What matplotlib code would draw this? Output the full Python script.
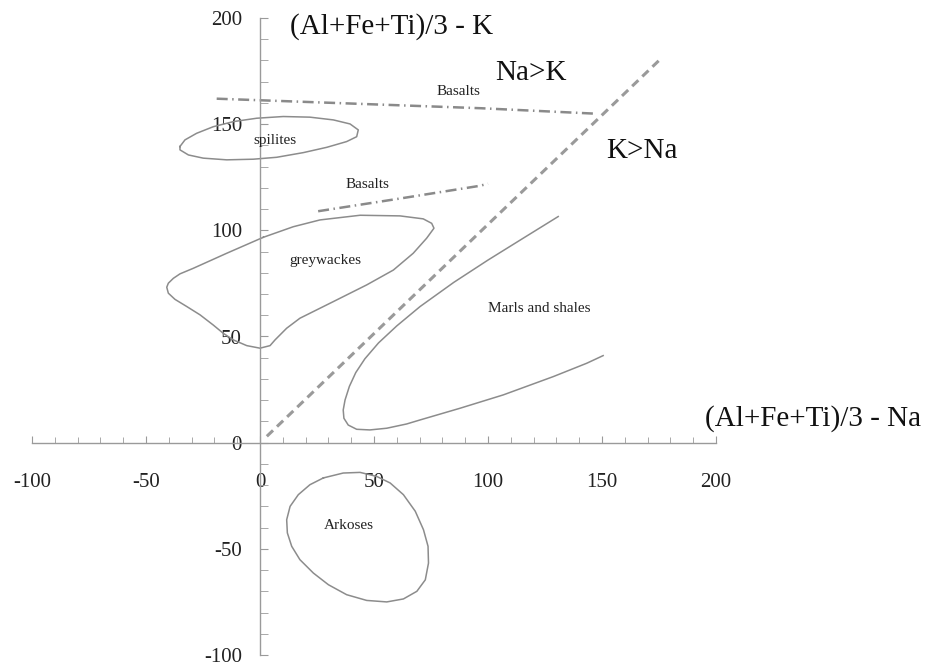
import matplotlib.pyplot as plt
from matplotlib.ticker import MultipleLocator

# field outlines
spilites_x = [-35.1, -32.9, -27.8, -20.5, -11.7, -1.4, 10.2, 21.9, 32.2, 39.5, 43.1, 42.4, 38.0, 29.3, 19.0,
              7.3, -2.9, -14.6, -24.9, -31.4, -35.1, -35.1]
spilites_y = [139.5, 142.6, 145.7, 148.8, 151.2, 152.8, 153.6, 153.3, 152.0, 150.1, 147.3, 144.1, 141.8, 139.1, 136.6,
              134.4, 133.5, 133.2, 134.0, 135.5, 137.9, 139.5]

greywackes_x = [1.4, 14.6, 26.3, 43.9, 61.4, 71.6, 75.3, 76.3, 73.1, 67.2, 58.5, 46.8, 32.1, 17.5, 11.7, 6.6,
                4.4, 0.0, -5.8, -11.7, -16.1, -20.5, -26.3, -32.1, -37.3, -40.2, -40.9, -40.2, -38.0, -35.1,
                -29.3, -14.6, 1.4]
greywackes_y = [96.7, 101.7, 104.9, 107.1, 106.8, 105.4, 103.3, 101.0, 96.3, 89.2, 81.3, 74.3, 66.4, 58.6, 53.9, 48.4,
                45.7, 44.5, 45.7, 48.4, 51.5, 55.4, 60.2, 64.1, 67.5, 70.4, 73.2, 75.1, 77.4, 79.5,
                82.1, 89.2, 96.7]

marls_x = [130.8, 115.0, 100.0, 85.0, 70.2, 60.0, 52.0, 46.0, 42.0, 39.2, 37.3, 36.5, 36.8, 38.7, 42.4,
           48.2, 55.6, 64.3, 70.2, 87.7, 106.7, 128.6, 143.3, 150.5]
marls_y = [106.5, 96.0, 86.0, 75.5, 64.1, 55.0, 47.0, 39.5, 33.0, 26.5, 20.1, 15.4, 11.5, 8.3, 6.3,
           6.0, 6.8, 8.8, 10.7, 16.2, 22.5, 31.1, 37.4, 41.0]

arkoses_x = [27.8, 21.9, 16.8, 13.2, 11.7, 12.0, 13.9, 17.5, 23.4, 30.0, 38.0, 46.8, 55.6, 62.9, 68.8, 72.5,
             73.9, 73.7, 71.7, 68.1, 62.9, 57.1, 51.2, 43.9, 36.5, 27.8]
arkoses_y = [-16.6, -19.8, -24.5, -30.0, -36.3, -42.5, -48.8, -55.1, -61.4, -66.9, -71.6, -74.3, -75.0, -73.6, -70.0, -64.6,
             -56.7, -48.8, -41.0, -32.3, -24.5, -19.0, -15.9, -14.0, -14.3, -16.6]

# Na = K divide and basalt limits
divide_x = [3, 175]
divide_y = [3, 180]
basalt_upper_x = [-19, 97, 146]
basalt_upper_y = [162, 157.5, 155]
basalt_lower_x = [25.5, 61.5, 96.6, 100]
basalt_lower_y = [109, 115, 121, 122]

field_labels = ['spilites', 'greywackes', 'Marls and shales', 'Arkoses', 'Basalts', 'Basalts']
field_label_x = [6.6, 28.5, 122.5, 39.1, 87, 47]
field_label_y = [142.3, 85.9, 63.4, -39, 165.3, 121.6]

plt.rcParams['font.family'] = ['Liberation Serif', 'DejaVu Serif']
plt.rcParams['axes.unicode_minus'] = False

fig = plt.figure(figsize=(9.49, 6.68), dpi=100)
ax = fig.add_axes([32 / 949, 1 - 655 / 668, (716 - 32) / 949, (655 - 18) / 668])
ax.set_xlim(-100, 200)
ax.set_ylim(-100, 200)

line_col = '#8c8c8c'
ax.plot(spilites_x, spilites_y, color=line_col, lw=1.1)
ax.plot(greywackes_x, greywackes_y, color=line_col, lw=1.1)
ax.plot(marls_x, marls_y, color=line_col, lw=1.1)
ax.plot(arkoses_x, arkoses_y, color=line_col, lw=1.1)
ax.plot(divide_x, divide_y, color='#9a9a9a', lw=2.2, dashes=(2.8, 1.8))
ax.plot(basalt_upper_x, basalt_upper_y, color='#8a8a8a', lw=1.8, dashes=(4.4, 1.8, 0.6, 1.8))
ax.plot(basalt_lower_x, basalt_lower_y, color='#8a8a8a', lw=1.8, dashes=(4.4, 1.8, 0.6, 1.8))

for lab, x, y in zip(field_labels, field_label_x, field_label_y):
    ax.text(x, y, lab, fontsize=11, ha='center', va='center', color='#222222')

ax.text(13, 196, '(Al+Fe+Ti)/3 - K', fontsize=21, ha='left', va='center', color='#111111')
ax.text(195, 11.5, '(Al+Fe+Ti)/3 - Na', fontsize=21, ha='left', va='center', color='#111111')
ax.text(103, 174, 'Na>K', fontsize=21, ha='left', va='center', color='#111111')
ax.text(152, 137.5, 'K>Na', fontsize=21, ha='left', va='center', color='#111111')

# axes crossing at the origin
for side in ['top', 'right']:
    ax.spines[side].set_visible(False)
for side in ['left', 'bottom']:
    ax.spines[side].set_position(('data', 0))
    ax.spines[side].set_color('#9a9a9a')
    ax.spines[side].set_linewidth(1.0)

ax.xaxis.set_major_locator(MultipleLocator(50))
ax.xaxis.set_minor_locator(MultipleLocator(10))
ax.yaxis.set_major_locator(MultipleLocator(50))
ax.yaxis.set_minor_locator(MultipleLocator(10))
ax.tick_params(axis='both', which='both', direction='in', color='#9a9a9a', labelcolor='#222222', labelsize=15)
ax.tick_params(axis='x', which='major', length=5, pad=22)
ax.tick_params(axis='x', which='minor', length=4)
ax.tick_params(axis='y', which='major', length=6, pad=13)
ax.tick_params(axis='y', which='minor', length=6)
ax.patch.set_visible(False)

fig.savefig('out.png', dpi=100)
plt.close(fig)
